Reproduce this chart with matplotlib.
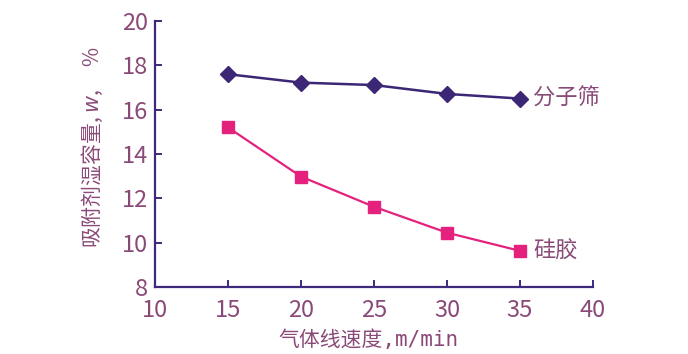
import matplotlib.pyplot as plt

plt.rcParams['font.family'] = ['Noto Sans CJK SC', 'DejaVu Sans']

# data
speed = [15, 20, 25, 30, 35]
sieve = [17.6, 17.22, 17.11, 16.71, 16.5]
silica = [15.2, 12.98, 11.62, 10.45, 9.63]

xticks = [10, 15, 20, 25, 30, 35, 40]
yticks = [8, 10, 12, 14, 16, 18, 20]

axis_col = '#3d2a7d'
text_col = '#8a4a78'
sieve_col = '#3b2775'
silica_col = '#e5217e'

fig = plt.figure(figsize=(6.88, 3.54), dpi=100)
ax = fig.add_axes([0.2253, 0.1893, 0.6366, 0.7514])

ax.plot(speed, sieve, color=sieve_col, lw=1.8, marker='D', ms=8, clip_on=False)
ax.plot(speed, silica, color=silica_col, lw=1.6, marker='s', ms=9, clip_on=False)

ax.set_xlim(10, 40)
ax.set_ylim(8, 20)
ax.set_xticks(xticks)
ax.set_yticks(yticks)

for s in ['top', 'right']:
    ax.spines[s].set_visible(False)
for s in ['left', 'bottom']:
    ax.spines[s].set_color(axis_col)
    ax.spines[s].set_linewidth(1.6)

ax.tick_params(direction='in', length=5, width=1.4, color=axis_col,
               labelcolor=text_col, labelsize=17)
ax.tick_params(axis='x', pad=9)
ax.tick_params(axis='y', pad=5)

ax.text(35.9, 16.5, '分子筛', color=text_col, fontsize=16, va='center', ha='left')
ax.text(35.9, 9.63, '硅胶', color=text_col, fontsize=16, va='center', ha='left')

fig.text(0.134, 0.585, '吸附剂湿容量, $w$,     %', rotation=90, color=text_col,
         fontsize=15, ha='center', va='center')
fig.text(0.535, 0.04, '气体线速度,m/min', color=text_col, fontsize=15,
         ha='center', va='center',
         family=['DejaVu Sans Mono', 'Noto Sans CJK SC'])

fig.savefig('out.png', dpi=100)
